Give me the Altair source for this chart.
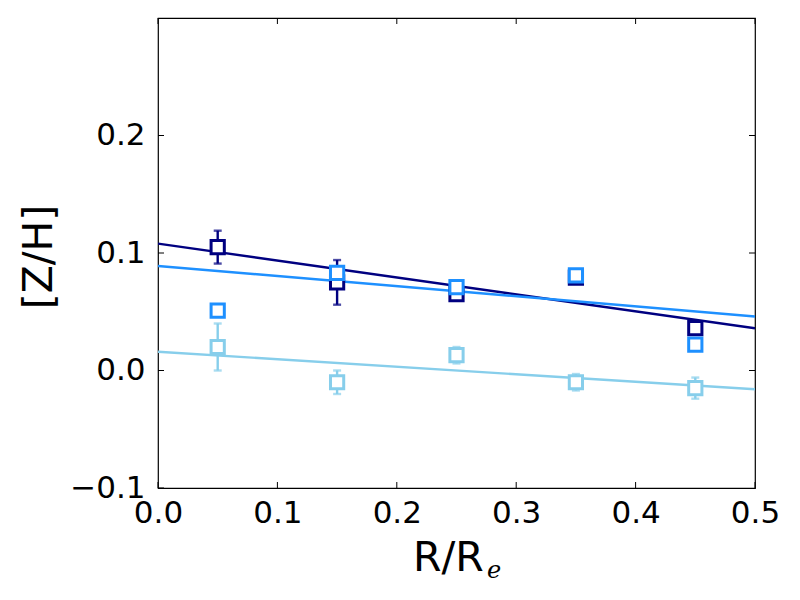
import altair as alt
import pandas as pd

# ---- data ----
radii = [0.05, 0.15, 0.25, 0.35, 0.45]
series_names = ["navy", "dodger", "sky"]
series_colors = ["#000080", "#1E90FF", "#87CEEB"]

navy_val = [0.105, 0.075, 0.065, 0.079, 0.036]
navy_err = [0.014, 0.019, 0.004, 0.002, 0.003]
dodger_val = [0.051, 0.083, 0.071, 0.081, 0.022]
dodger_err = [0.004, 0.005, 0.003, 0.002, 0.002]
sky_val = [0.020, -0.010, 0.013, -0.010, -0.015]
sky_err = [0.020, 0.010, 0.007, 0.007, 0.009]

fit_x = [0.0, 0.5]
navy_fit = [0.108, 0.036]
dodger_fit = [0.089, 0.046]
sky_fit = [0.016, -0.016]

x_ticks = [0.0, 0.1, 0.2, 0.3, 0.4, 0.5]
y_ticks = [-0.1, 0.0, 0.1, 0.2]
y_ticks_right = [0.0, 0.1, 0.2]

# ---- tables ----
rows = []
for name, vals, errs in zip(series_names, [navy_val, dodger_val, sky_val],
                            [navy_err, dodger_err, sky_err]):
    for r, v, e in zip(radii, vals, errs):
        rows.append({"s": name, "r": r, "v": v, "lo": v - e, "hi": v + e})
pts = pd.DataFrame(rows)

frows = []
for name, fv in zip(series_names, [navy_fit, dodger_fit, sky_fit]):
    for xx, yy in zip(fit_x, fv):
        frows.append({"s": name, "r": xx, "v": yy})
fits = pd.DataFrame(frows)

W, H = 597, 470
xs = alt.Scale(domain=[0, 0.5], nice=False, zero=False, padding=0)
ys = alt.Scale(domain=[-0.1, 0.3], nice=False, zero=False, padding=0)
cs = alt.Scale(domain=series_names, range=series_colors)
FONT = "DejaVu Sans"

xaxis = alt.Axis(values=x_ticks, format=".1f", ticks=False, domain=False, grid=False,
                 labelFontSize=31, labelFont=FONT, labelColor="black", labelPadding=10,
                 labelFlush=False, labelOverlap=False, labelBound=False, title=None)
yaxis = alt.Axis(values=y_ticks, format=".1f", ticks=False, domain=False, grid=False,
                 labelFontSize=31, labelFont=FONT, labelColor="black", labelPadding=13,
                 labelFlush=False, labelOverlap=False, labelBound=False, title=None)

base_x = alt.X("r:Q", scale=xs, axis=xaxis)
base_y = alt.Y("v:Q", scale=ys, axis=yaxis)
col = alt.Color("s:N", scale=cs, legend=None)

lines = alt.Chart(fits).mark_line(strokeWidth=2.4, clip=True).encode(
    x=base_x, y=base_y, color=col, detail="s:N",
)

err = alt.Chart(pts).mark_rule(strokeWidth=2.4).encode(
    x="r:Q", y="lo:Q", y2="hi:Q", color=col,
)
cap_lo = alt.Chart(pts).mark_tick(orient="horizontal", size=8, thickness=2.4).encode(
    x="r:Q", y="lo:Q", color=col)
cap_hi = alt.Chart(pts).mark_tick(orient="horizontal", size=8, thickness=2.4).encode(
    x="r:Q", y="hi:Q", color=col)

squares = alt.Chart(pts).mark_point(shape="square", filled=False, fill="white",
                                    fillOpacity=1, size=175, strokeWidth=3,
                                    opacity=1).encode(
    x="r:Q", y="v:Q",
    stroke=alt.Stroke("s:N", scale=cs, legend=None),
)

# inward ticks on all four sides
xt = pd.DataFrame({"t": x_ticks})
yt = pd.DataFrame({"t": y_ticks})
ytr = pd.DataFrame({"t": y_ticks_right})
tick_style = dict(color="black", strokeWidth=1)
t_bottom = alt.Chart(xt).mark_rule(**tick_style).encode(
    x="t:Q", y=alt.value(H), y2=alt.value(H - 6))
t_top = alt.Chart(xt).mark_rule(**tick_style).encode(
    x="t:Q", y=alt.value(0), y2=alt.value(6))
t_left = alt.Chart(yt).mark_rule(**tick_style).encode(
    y="t:Q", x=alt.value(0), x2=alt.value(6))
t_right = alt.Chart(ytr).mark_rule(**tick_style).encode(
    y="t:Q", x=alt.value(W), x2=alt.value(W - 6))

# axis titles
xt1 = alt.Chart(pd.DataFrame({"t": ["R/R"]})).mark_text(
    font=FONT, fontSize=41, align="left", baseline="alphabetic", color="black"
).encode(text="t:N", x=alt.value(255), y=alt.value(553))
xt2 = alt.Chart(pd.DataFrame({"t": ["e"]})).mark_text(
    font="DejaVu Serif", fontStyle="italic", fontSize=24, align="left",
    baseline="alphabetic", color="black"
).encode(text="t:N", x=alt.value(329), y=alt.value(560))
yt1 = alt.Chart(pd.DataFrame({"t": ["[Z/H]"]})).mark_text(
    font=FONT, fontSize=41, align="center", baseline="middle", angle=270, color="black"
).encode(text="t:N", x=alt.value(-118), y=alt.value(239))

chart = alt.layer(
    lines, err, cap_lo, cap_hi, squares,
    t_bottom, t_top, t_left, t_right,
    xt1, xt2, yt1,
).properties(
    width=W, height=H,
    autosize=alt.AutoSizeParams(type="none"),
    padding={"left": 150, "top": 10, "right": 37, "bottom": 104},
    background="white",
).configure_view(
    stroke="black", strokeWidth=1.2
)

chart.save("out.html", embed_options={"renderer": "svg", "actions": False})
